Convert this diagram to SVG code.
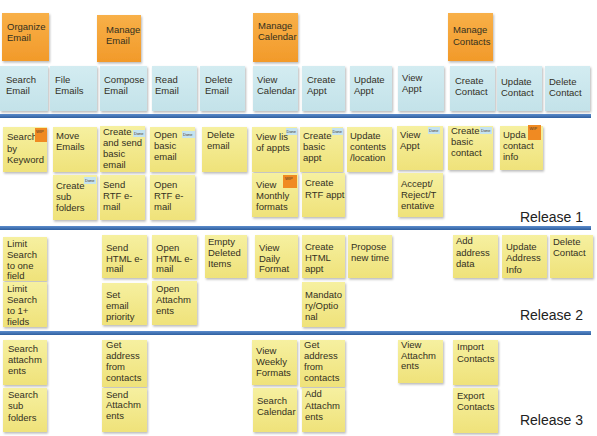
<svg xmlns="http://www.w3.org/2000/svg" width="597" height="436" viewBox="0 0 597 436">
<defs>
<filter id="sh" x="-10%" y="-10%" width="130%" height="130%"><feDropShadow dx="1" dy="1.5" stdDeviation="1" flood-color="#000" flood-opacity="0.28"/></filter>
<linearGradient id="gy" x1="0" y1="0" x2="0" y2="1"><stop offset="0" stop-color="#f6f0a0"/><stop offset="1" stop-color="#efe27a"/></linearGradient>
<linearGradient id="gb" x1="0" y1="0" x2="0" y2="1"><stop offset="0" stop-color="#d3ecf1"/><stop offset="1" stop-color="#c3e2e9"/></linearGradient>
<linearGradient id="go" x1="0" y1="0" x2="0" y2="1"><stop offset="0" stop-color="#f8b048"/><stop offset="1" stop-color="#f29a2a"/></linearGradient>
<linearGradient id="gl" x1="0" y1="0" x2="0" y2="1"><stop offset="0" stop-color="#5b8ccc"/><stop offset="1" stop-color="#2f5f9f"/></linearGradient>
</defs>
<style>
.y{fill:url(#gy);filter:url(#sh)}
.b{fill:url(#gb);filter:url(#sh)}
.o{fill:url(#go);filter:url(#sh)}
text{font-family:"Liberation Sans",Arial,sans-serif;font-size:9.5px;fill:#33301f}
.wip{fill:#f08a22}
.done{fill:#c4e3f0}
.tg{font-size:4px;fill:#4a3a2a}
.rel{font-size:14px;fill:#222;text-anchor:end}
.line{fill:url(#gl)}
</style>
<rect width="597" height="436" fill="#ffffff"/>

<g id="lines">
<rect class="line" x="0" y="114" width="591" height="4"/>
<rect class="line" x="0" y="226" width="591" height="4"/>
<rect class="line" x="0" y="331" width="591" height="4"/>
</g>

<!-- Activities -->
<g id="act-organize" transform="translate(2,13)"><rect class="o" width="47" height="48"/><text x="5" y="17">Organize</text><text x="5" y="28">Email</text></g>
<g id="act-manage-email" transform="translate(97,15)"><rect class="o" width="44" height="47"/><text x="9" y="18">Manage</text><text x="9" y="29">Email</text></g>
<g id="act-manage-calendar" transform="translate(253,13)"><rect class="o" width="45" height="49"/><text x="5" y="16">Manage</text><text x="5" y="27">Calendar</text></g>
<g id="act-manage-contacts" transform="translate(448,13)"><rect class="o" width="45" height="48"/><text x="5" y="20">Manage</text><text x="5" y="32">Contacts</text></g>

<!-- Tasks -->
<g id="t-search-email" transform="translate(0,66)"><rect class="b" width="48" height="45"/><text x="6" y="17">Search</text><text x="6" y="28">Email</text></g>
<g id="t-file-emails" transform="translate(50,66)"><rect class="b" width="47" height="45"/><text x="5" y="17">File</text><text x="5" y="28">Emails</text></g>
<g id="t-compose-email" transform="translate(100,66)"><rect class="b" width="47" height="45"/><text x="4" y="17">Compose</text><text x="4" y="28">Email</text></g>
<g id="t-read-email" transform="translate(152,66)"><rect class="b" width="45" height="45"/><text x="3" y="17">Read</text><text x="3" y="28">Email</text></g>
<g id="t-delete-email" transform="translate(200,66)"><rect class="b" width="45" height="45"/><text x="5" y="17">Delete</text><text x="5" y="28">Email</text></g>
<g id="t-view-calendar" transform="translate(253,66)"><rect class="b" width="45" height="45"/><text x="4" y="17">View</text><text x="4" y="28">Calendar</text></g>
<g id="t-create-appt" transform="translate(302,66)"><rect class="b" width="43" height="45"/><text x="5" y="17">Create</text><text x="5" y="28">Appt</text></g>
<g id="t-update-appt" transform="translate(350,66)"><rect class="b" width="42" height="45"/><text x="4" y="17">Update</text><text x="4" y="28">Appt</text></g>
<g id="t-view-appt" transform="translate(398,66)"><rect class="b" width="46" height="45"/><text x="4" y="15">View</text><text x="4" y="26">Appt</text></g>
<g id="t-create-contact" transform="translate(450,66)"><rect class="b" width="45" height="45"/><text x="5" y="18">Create</text><text x="5" y="29">Contact</text></g>
<g id="t-update-contact" transform="translate(497,66)"><rect class="b" width="45" height="45"/><text x="4" y="19">Update</text><text x="4" y="30">Contact</text></g>
<g id="t-delete-contact" transform="translate(545,66)"><rect class="b" width="45" height="45"/><text x="4" y="19">Delete</text><text x="4" y="30">Contact</text></g>

<!-- Release 1 -->
<g id="s-search-keyword" transform="translate(3,127)"><rect class="y" width="44" height="45"/><text x="4" y="13">Search</text><text x="4" y="25">by</text><text x="4" y="36">Keyword</text><rect class="wip" x="32" y="1" width="12" height="14"/><text class="tg" x="33" y="6">WIP</text></g>
<g id="s-move-emails" transform="translate(53,127)"><rect class="y" width="44" height="45"/><text x="3" y="12">Move</text><text x="3" y="23">Emails</text></g>
<g id="s-create-send-basic" transform="translate(100,126)"><rect class="y" width="45" height="46"/><text x="3" y="9">Create</text><text x="3" y="20">and send</text><text x="3" y="31">basic</text><text x="3" y="42">email</text><rect class="done" x="33" y="4" width="12" height="7"/><text class="tg" x="34" y="9">Done</text></g>
<g id="s-open-basic" transform="translate(150,127)"><rect class="y" width="45" height="45"/><text x="4" y="11">Open</text><text x="4" y="22">basic</text><text x="4" y="33">email</text><rect class="done" x="32" y="4" width="13" height="7"/><text class="tg" x="33" y="9">Done</text></g>
<g id="s-delete-email" transform="translate(202,127)"><rect class="y" width="45" height="45"/><text x="5" y="11">Delete</text><text x="5" y="22">email</text></g>
<g id="s-view-list-appts" transform="translate(252,127)"><rect class="y" width="45" height="45"/><text x="4" y="13">View lis</text><text x="4" y="24">of appts</text><rect class="done" x="34" y="1" width="11" height="7"/><text class="tg" x="34.5" y="6">Done</text></g>
<g id="s-create-basic-appt" transform="translate(300,127)"><rect class="y" width="43" height="45"/><text x="3" y="12">Create</text><text x="3" y="23">basic</text><text x="3" y="34">appt</text><rect class="done" x="32" y="1" width="11" height="7"/><text class="tg" x="32.5" y="6">Done</text></g>
<g id="s-update-contents" transform="translate(347,127)"><rect class="y" width="45" height="45"/><text x="3" y="12">Update</text><text x="3" y="23">contents</text><text x="3" y="34">/location</text></g>
<g id="s-view-appt" transform="translate(397,126)"><rect class="y" width="46" height="44"/><text x="3" y="12">View</text><text x="3" y="23">Appt</text><rect class="done" x="31" y="1" width="12" height="7"/><text class="tg" x="32" y="6">Done</text></g>
<g id="s-create-basic-contact" transform="translate(448,126)"><rect class="y" width="45" height="44"/><text x="3" y="8">Create</text><text x="3" y="19">basic</text><text x="3" y="30">contact</text><rect class="done" x="32" y="1" width="12" height="7"/><text class="tg" x="33" y="6">Done</text></g>
<g id="s-update-contact-info" transform="translate(500,126)"><rect class="y" width="43" height="44"/><text x="3" y="12">Upda</text><text x="3" y="23">contact</text><text x="3" y="34">info</text><rect class="wip" x="28" y="-1" width="13" height="15"/><text class="tg" x="29.5" y="4">WIP</text></g>
<g id="s-create-sub-folders" transform="translate(53,175)"><rect class="y" width="44" height="45"/><text x="3" y="14">Create</text><text x="3" y="25">sub</text><text x="3" y="36">folders</text><rect class="done" x="31" y="2" width="12" height="7"/><text class="tg" x="32" y="7">Done</text></g>
<g id="s-send-rtf" transform="translate(100,175)"><rect class="y" width="45" height="45"/><text x="3" y="13">Send</text><text x="3" y="24">RTF e-</text><text x="3" y="35">mail</text></g>
<g id="s-open-rtf" transform="translate(150,175)"><rect class="y" width="45" height="45"/><text x="4" y="13">Open</text><text x="4" y="24">RTF e-</text><text x="4" y="35">mail</text></g>
<g id="s-view-monthly" transform="translate(252,173)"><rect class="y" width="46" height="44"/><text x="4" y="15">View</text><text x="4" y="26">Monthly</text><text x="4" y="37">formats</text><rect class="wip" x="31" y="2" width="14" height="13"/><text class="tg" x="33" y="7">WIP</text></g>
<g id="s-create-rtf-appt" transform="translate(302,173)"><rect class="y" width="43" height="44"/><text x="3" y="13">Create</text><text x="3" y="25">RTF appt</text></g>
<g id="s-accept-reject" transform="translate(398,173)"><rect class="y" width="45" height="44"/><text x="3" y="14">Accept/</text><text x="3" y="25">Reject/T</text><text x="3" y="36">entative</text></g>
<text class="rel" x="583" y="222">Release 1</text>

<!-- Release 2 -->
<g id="s-limit-one" transform="translate(3,237)"><rect class="y" width="44" height="44"/><text x="4" y="10">Limit</text><text x="4" y="21">Search</text><text x="4" y="32">to one</text><text x="4" y="42">field</text></g>
<g id="s-limit-many" transform="translate(3,282)"><rect class="y" width="44" height="45"/><text x="4" y="10">Limit</text><text x="4" y="21">Search</text><text x="4" y="32">to 1+</text><text x="4" y="43">fields</text></g>
<g id="s-send-html" transform="translate(102,235)"><rect class="y" width="45" height="43"/><text x="4" y="16">Send</text><text x="4" y="27">HTML e-</text><text x="4" y="37">mail</text></g>
<g id="s-set-priority" transform="translate(102,283)"><rect class="y" width="45" height="42"/><text x="4" y="15">Set</text><text x="4" y="26">email</text><text x="4" y="37">priority</text></g>
<g id="s-open-html" transform="translate(152,235)"><rect class="y" width="45" height="43"/><text x="4" y="16">Open</text><text x="4" y="27">HTML e-</text><text x="4" y="37">mail</text></g>
<g id="s-open-attach" transform="translate(152,281)"><rect class="y" width="45" height="44"/><text x="4" y="11">Open</text><text x="4" y="22">Attachm</text><text x="4" y="33">ents</text></g>
<g id="s-empty-deleted" transform="translate(205,235)"><rect class="y" width="42" height="43"/><text x="3" y="10">Empty</text><text x="3" y="21">Deleted</text><text x="3" y="32">Items</text></g>
<g id="s-view-daily" transform="translate(255,235)"><rect class="y" width="43" height="43"/><text x="4" y="16">View</text><text x="4" y="27">Daily</text><text x="4" y="37">Format</text></g>
<g id="s-create-html-appt" transform="translate(302,235)"><rect class="y" width="43" height="43"/><text x="3" y="15">Create</text><text x="3" y="26">HTML</text><text x="3" y="37">appt</text></g>
<g id="s-mandatory" transform="translate(302,282)"><rect class="y" width="43" height="45"/><text x="3" y="16">Mandato</text><text x="3" y="27">ry/Optio</text><text x="3" y="38">nal</text></g>
<g id="s-propose-time" transform="translate(348,235)"><rect class="y" width="44" height="43"/><text x="3" y="15">Propose</text><text x="3" y="26">new time</text></g>
<g id="s-add-address" transform="translate(453,235)"><rect class="y" width="45" height="43"/><text x="3" y="9">Add</text><text x="3" y="21">address</text><text x="3" y="32">data</text></g>
<g id="s-update-address" transform="translate(502,235)"><rect class="y" width="45" height="43"/><text x="4" y="15">Update</text><text x="4" y="26">Address</text><text x="4" y="38">Info</text></g>
<g id="s-delete-contact" transform="translate(550,235)"><rect class="y" width="43" height="43"/><text x="3" y="10">Delete</text><text x="3" y="21">Contact</text></g>
<text class="rel" x="583" y="320">Release 2</text>

<!-- Release 3 -->
<g id="s-search-attach" transform="translate(3,340)"><rect class="y" width="44" height="45"/><text x="5" y="12">Search</text><text x="5" y="23">attachm</text><text x="5" y="34">ents</text></g>
<g id="s-search-sub" transform="translate(3,388)"><rect class="y" width="44" height="44"/><text x="5" y="10">Search</text><text x="5" y="21">sub</text><text x="5" y="33">folders</text></g>
<g id="s-get-address-email" transform="translate(102,340)"><rect class="y" width="45" height="47"/><text x="4" y="8">Get</text><text x="4" y="19">address</text><text x="4" y="30">from</text><text x="4" y="41">contacts</text></g>
<g id="s-send-attach" transform="translate(102,388)"><rect class="y" width="45" height="44"/><text x="4" y="10">Send</text><text x="4" y="20">Attachm</text><text x="4" y="31">ents</text></g>
<g id="s-view-weekly" transform="translate(252,340)"><rect class="y" width="45" height="45"/><text x="4" y="14">View</text><text x="4" y="25">Weekly</text><text x="4" y="36">Formats</text></g>
<g id="s-get-address-cal" transform="translate(300,340)"><rect class="y" width="45" height="47"/><text x="4" y="8">Get</text><text x="4" y="19">address</text><text x="4" y="30">from</text><text x="4" y="41">contacts</text></g>
<g id="s-search-calendar" transform="translate(253,388)"><rect class="y" width="44" height="44"/><text x="4" y="16">Search</text><text x="4" y="27">Calendar</text></g>
<g id="s-add-attach" transform="translate(302,388)"><rect class="y" width="43" height="44"/><text x="3" y="9">Add</text><text x="3" y="21">Attachm</text><text x="3" y="32">ents</text></g>
<g id="s-view-attach" transform="translate(398,340)"><rect class="y" width="45" height="43"/><text x="3" y="8">View</text><text x="3" y="19">Attachm</text><text x="3" y="29">ents</text></g>
<g id="s-import-contacts" transform="translate(453,340)"><rect class="y" width="45" height="45"/><text x="4" y="10">Import</text><text x="4" y="22">Contacts</text></g>
<g id="s-export-contacts" transform="translate(453,388)"><rect class="y" width="45" height="45"/><text x="4" y="11">Export</text><text x="4" y="22">Contacts</text></g>
<text class="rel" x="583" y="425">Release 3</text>
</svg>
